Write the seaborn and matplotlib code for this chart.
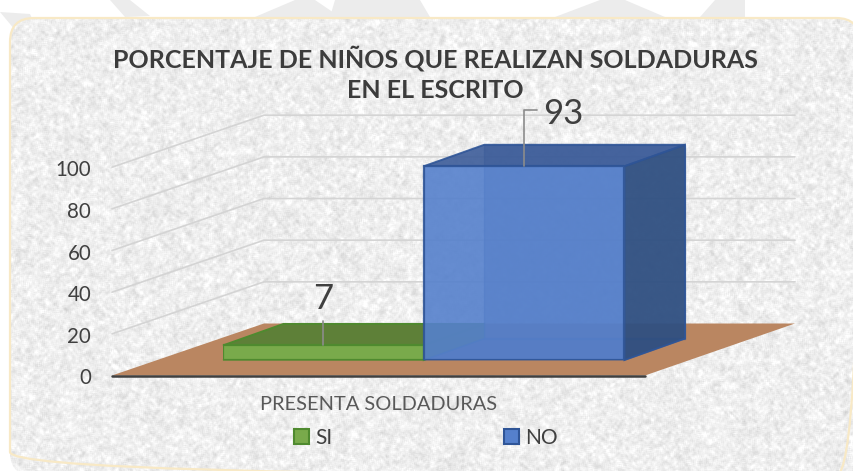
import numpy as np
import pandas as pd
import matplotlib
matplotlib.use("Agg")
import matplotlib.pyplot as plt
from matplotlib.patches import Polygon, FancyBboxPatch, Patch
import seaborn as sns

categories = ["SI", "NO"]
values = [7, 93]
y_ticks = [0, 20, 40, 60, 80, 100]
title_lines = ["PORCENTAJE DE NIÑOS QUE REALIZAN SOLDADURAS", "EN EL ESCRITO"]
axis_title = "PRESENTA SOLDADURAS"
colors = {"SI": "#79aa4b", "NO": "#5580cc"}

sns.set_theme(style="white")
plt.rcParams["font.family"] = ["Lato", "DejaVu Sans"]
W, H = 854, 471
TXT = "#404040"

fig = plt.figure(figsize=(W / 100, H / 100), dpi=100, facecolor="white")

# full-figure pixel layer for the card, wall and floor decoration
bg = fig.add_axes([0, 0, 1, 1], zorder=0)
bg.set_xlim(0, W); bg.set_ylim(H, 0); bg.axis("off")

# faint watermark shapes above the card
for pts in ([(0, 12), (30, 14), (42, 40), (15, 30)], [(110, 0), (130, 0), (150, 16), (125, 17)],
            [(255, 17), (295, 0), (315, 0), (340, 17)], [(330, 17), (335, 0), (420, 0), (430, 17)],
            [(555, 17), (600, 0), (625, 0), (665, 17)], [(700, 17), (715, 0), (745, 0), (745, 17)]):
    bg.add_patch(Polygon(pts, closed=True, fc="#ececec", ec="none", zorder=0))

# card texture (decoration only)
rng = np.random.default_rng(3)
n = rng.normal(0, 1, (H, W))
def blur(a, k):
    for axis in (0, 1):
        a = sum(np.roll(a, s, axis=axis) for s in range(-k, k + 1)) / (2 * k + 1)
    return a
tex = 0.75 * blur(n, 1) * 3 + 0.25 * blur(n, 3) * 7
tex = np.clip(238 + tex * 7.5, 195, 255)
im = bg.imshow(tex, cmap="gray", vmin=0, vmax=255, extent=(0, W, H, 0), aspect="auto", zorder=1,
               interpolation="bilinear")
card = FancyBboxPatch((10, 18), 850, 458, boxstyle="round,pad=0,rounding_size=24",
                      fc="none", ec="#f8e9c6", lw=1.6, zorder=2)
bg.add_patch(card)
im.set_clip_path(card)
bg.set_xlim(0, W); bg.set_ylim(H, 0)

# value axis on the front plane of the floor
FRONT_Y, PX_PER = 375.5, 2.083
ax_y = fig.add_axes([112 / W, 1 - (FRONT_Y + 1) / H, 1 / W, 100 * PX_PER / H], zorder=1)
ax_y.patch.set_alpha(0)
ax_y.set_ylim(0, 100)
ax_y.set_yticks(y_ticks)
ax_y.set_xticks([])
ax_y.tick_params(axis="y", length=0, pad=15, labelsize=14.8, labelcolor=TXT)
for s in ax_y.spines.values():
    s.set_visible(False)

# walls & floor
BACK_Y = 323.5
for t in y_ticks:
    yf = FRONT_Y - t * PX_PER
    yb = BACK_Y - t * PX_PER
    if t > 0:
        bg.plot([112, 264, 795], [yf, yb, yb], color="#d4d4d4", lw=1.2, zorder=3, solid_joinstyle="miter")
bg.add_patch(Polygon([(112, FRONT_Y), (645, FRONT_Y), (795, BACK_Y), (264, BACK_Y)], closed=True,
                     fc="#ba8661", ec="none", zorder=4))
bg.plot([112, 645], [FRONT_Y, FRONT_Y], color="#404040", lw=1.8, zorder=5)

# bars, on a plane set back from the front of the floor
BX0, BX1, BY0 = 223, 624.5, 360
ax = fig.add_axes([BX0 / W, 1 - BY0 / H, (BX1 - BX0) / W, 100 * PX_PER / H], zorder=2)
ax.patch.set_alpha(0)
df = pd.DataFrame({"cat": categories, "val": values})
sns.barplot(data=df, x="cat", y="val", hue="cat", order=categories, hue_order=categories, palette=colors,
            width=1, dodge=False, saturation=1, legend=False, ax=ax, zorder=5)
ax.set_xlim(-0.5, 1.5); ax.set_ylim(0, 100)
ax.axis("off")

PX_CAT = (BX1 - BX0) / 2
DX = 60.5 / PX_CAT
DY = 21.5 / PX_PER
edge = {"SI": "#4f8a2f", "NO": "#2f5597"}
side = {"SI": "#5e8038", "NO": "#2f4f80"}
top = {"SI": "#5e8038", "NO": "#3c5c99"}
for patch, c, v in zip(ax.patches, categories, values):
    x0, x1 = patch.get_x(), patch.get_x() + patch.get_width()
    a = 1.0 if c == "SI" else 0.9
    patch.set_edgecolor(edge[c]); patch.set_linewidth(1.6); patch.set_alpha(a)
    z = 3 if c == "SI" else 5
    patch.set_zorder(z + 1)
    # back wall and floor of the bar, seen through
    ax.add_patch(Polygon([(x0 + DX, DY), (x1 + DX, DY), (x1 + DX, v + DY), (x0 + DX, v + DY)], closed=True,
                         fc=top[c], ec=edge[c], lw=1, alpha=a if c == "SI" else 0.5, zorder=z - 1, clip_on=False))
    ax.add_patch(Polygon([(x0, 0), (x1, 0), (x1 + DX, DY), (x0 + DX, DY)], closed=True,
                         fc=top[c], ec=edge[c], lw=1, alpha=a if c == "SI" else 0.6, zorder=z - 1, clip_on=False))
    # top
    ax.add_patch(Polygon([(x0, v), (x1, v), (x1 + DX, v + DY), (x0 + DX, v + DY)], closed=True,
                         fc=top[c], ec=edge[c], lw=1.4, alpha=a, zorder=z, clip_on=False))
    # right side
    ax.add_patch(Polygon([(x1, 0), (x1 + DX, DY), (x1 + DX, v + DY), (x1, v)], closed=True,
                         fc=side[c], ec=edge[c], lw=1.4, alpha=0.9, zorder=z, clip_on=False))

# data labels with leader lines
ax.plot([0, 0], [values[0], values[0] + 24 / PX_PER], color="#8c8c8c", lw=1.2, zorder=9, clip_on=False)
ax.plot([1, 1, 1 + 13 / PX_CAT], [values[1], values[1] + 56 / PX_PER, values[1] + 56 / PX_PER],
        color="#8c8c8c", lw=1.2, zorder=9, clip_on=False)
ax.text(0, values[0] + 46 / PX_PER, str(values[0]), ha="center", va="center", fontsize=25, color=TXT,
        clip_on=False, zorder=10)
ax.text(1 + 39 / PX_CAT, values[1] + 52 / PX_PER, str(values[1]), ha="center", va="center", fontsize=25,
        color=TXT, clip_on=False, zorder=10)

# titles and legend
for line, y in zip(title_lines, (59, 91)):
    fig.text(435 / W, 1 - y / H, line, ha="center", va="center", fontsize=18, fontweight="bold",
             color="#3c3c3c", zorder=10)
fig.text(379 / W, 1 - 405 / H, axis_title, ha="center", va="center", fontsize=14.4, color="#595959", zorder=10)
handles = [Patch(fc=colors[c], ec=edge[c], lw=1.5, label=c) for c in categories]
fig.legend(handles=handles, ncols=2, loc="center", bbox_to_anchor=(426 / W, 1 - 438 / H), frameon=False,
           fontsize=15, labelcolor=TXT, handlelength=0.75, handleheight=0.75, handletextpad=0.3,
           columnspacing=8.2)

fig.savefig("out.png", dpi=100, facecolor="white")
